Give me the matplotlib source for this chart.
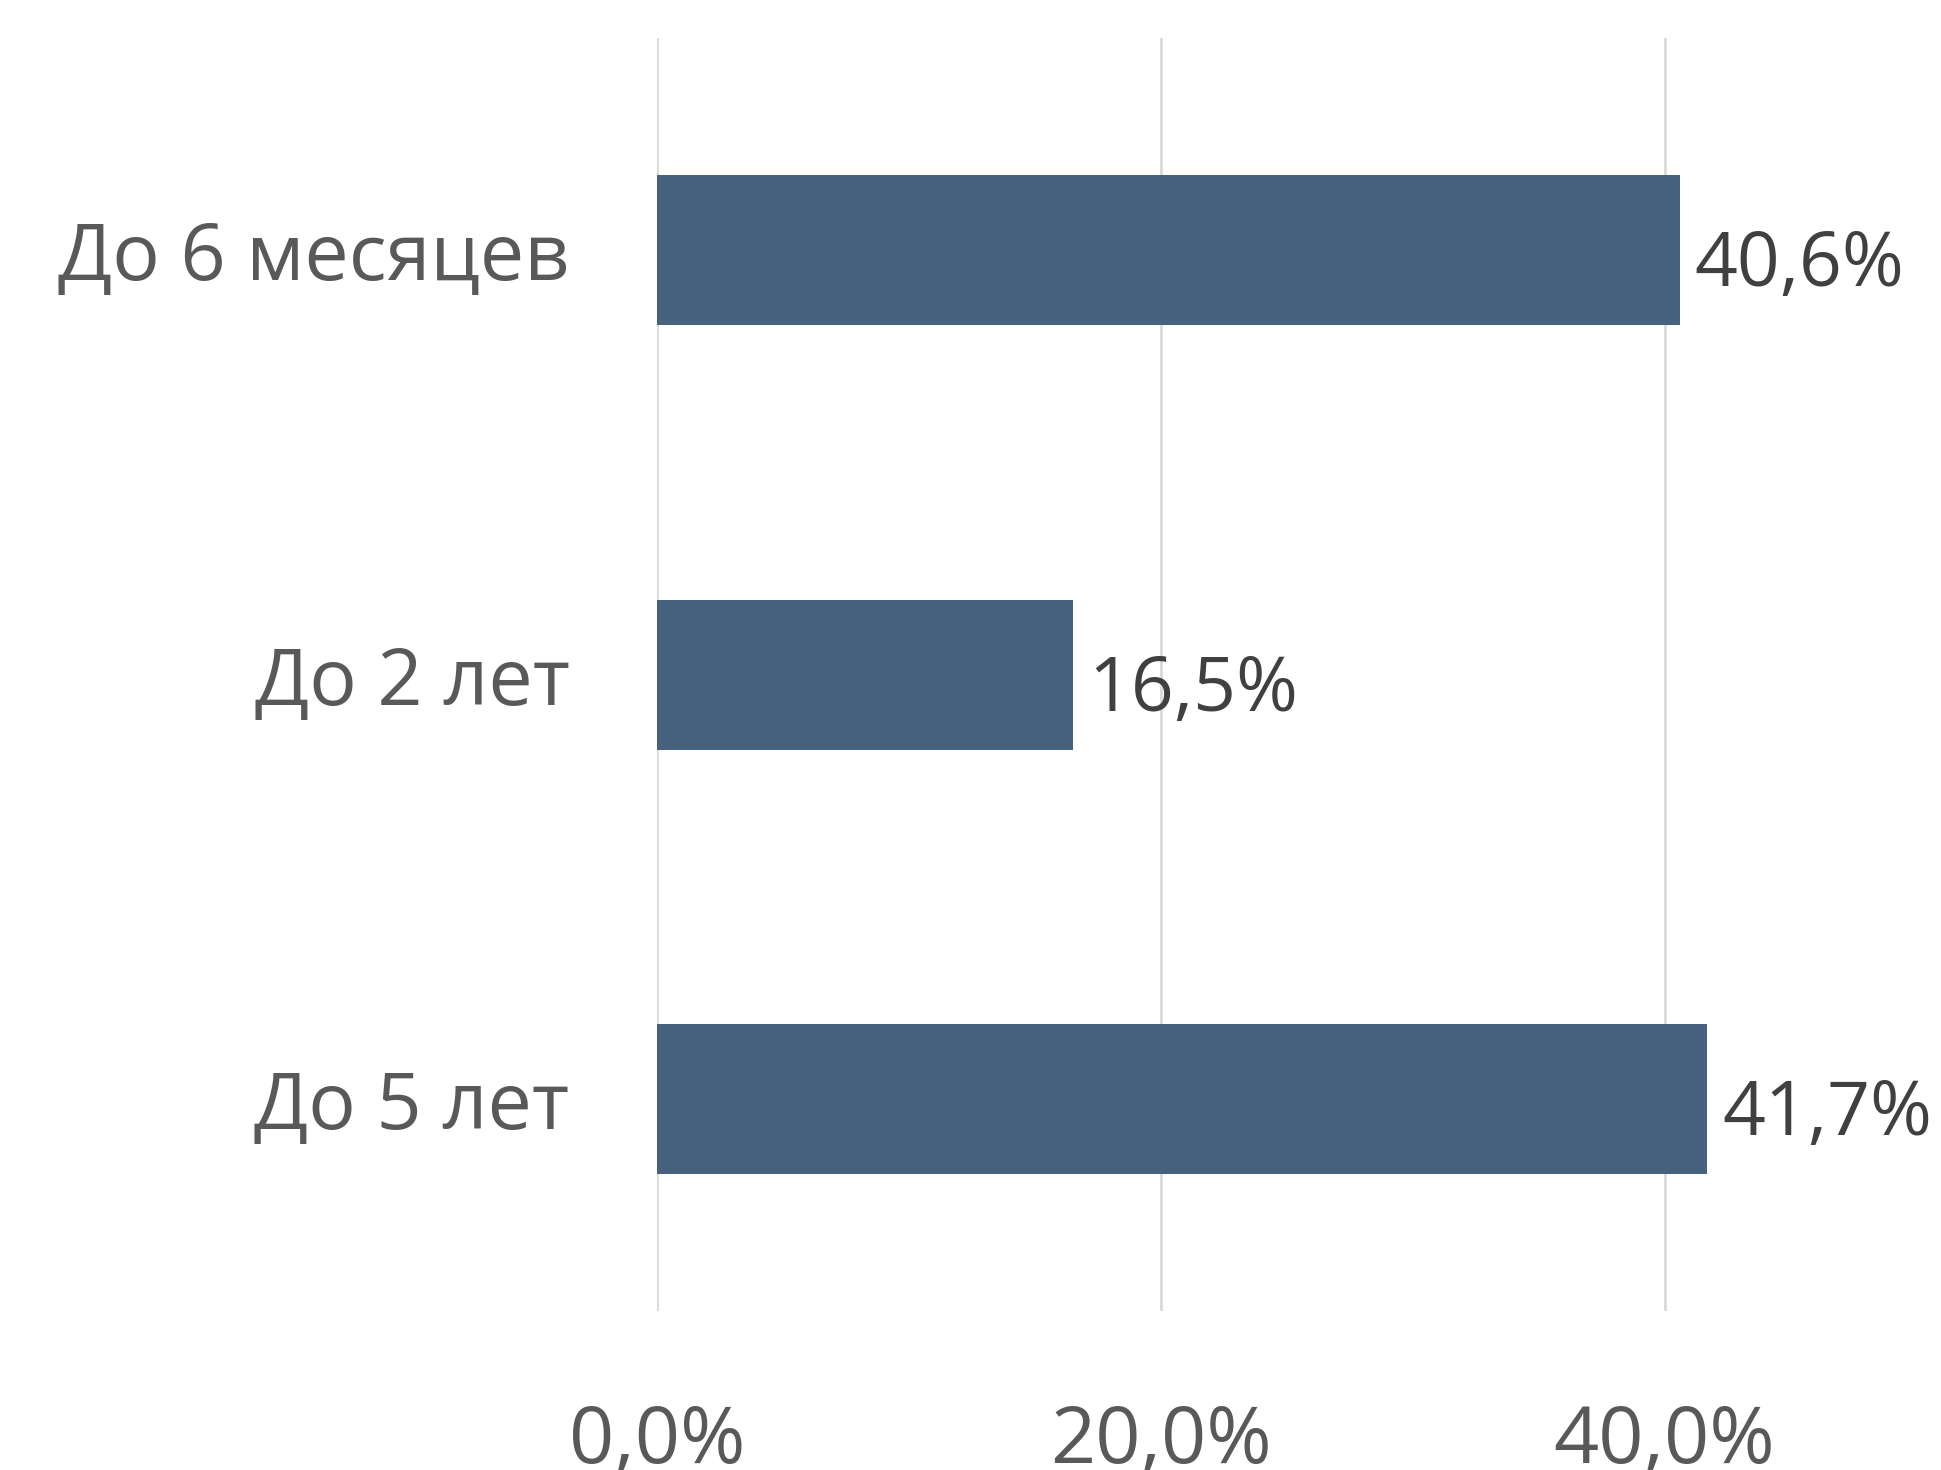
import matplotlib
matplotlib.use("Agg")
import matplotlib.pyplot as plt

CATEGORIES = ["До 6 месяцев", "До 2 лет", "До 5 лет"]
VALUES = [40.6, 16.5, 41.7]
TICKS = [0, 20, 40]
TICK_LABELS = ["0,0%", "20,0%", "40,0%"]

BAR_COLOR = "#46627f"
FONT = ["Open Sans", "DejaVu Sans"]

plt.rcParams["font.family"] = FONT

fig = plt.figure(figsize=(19.41, 14.70), dpi=100)
ax = fig.add_axes([0.3385, 0.108, 0.584, 0.866])

ypos = list(range(len(CATEGORIES)))
ax.barh(ypos, VALUES, height=0.353, color=BAR_COLOR, zorder=3)

# value labels: baseline a little below bar centre, as in the reference
for y, v in zip(ypos, VALUES):
    ax.text(v + 0.6, y + 0.085, f"{v:.1f}%".replace(".", ","), va="baseline",
            ha="left", fontsize=54, color="#404040", clip_on=False)

ax.set_xlim(0, 45)
ax.set_ylim(2.5, -0.5)
ax.set_yticks(ypos)
ax.set_yticklabels(CATEGORIES)
ax.set_xticks(TICKS)
ax.set_xticklabels(TICK_LABELS)
ax.tick_params(axis="y", length=0, pad=63, labelsize=57, labelcolor="#595959")
ax.tick_params(axis="x", length=0, pad=66, labelsize=57, labelcolor="#595959")
ax.grid(axis="x", color="#d9d9d9", lw=2, zorder=0)
for s in ax.spines.values():
    s.set_visible(False)

fig.savefig("out.png", dpi=100)
